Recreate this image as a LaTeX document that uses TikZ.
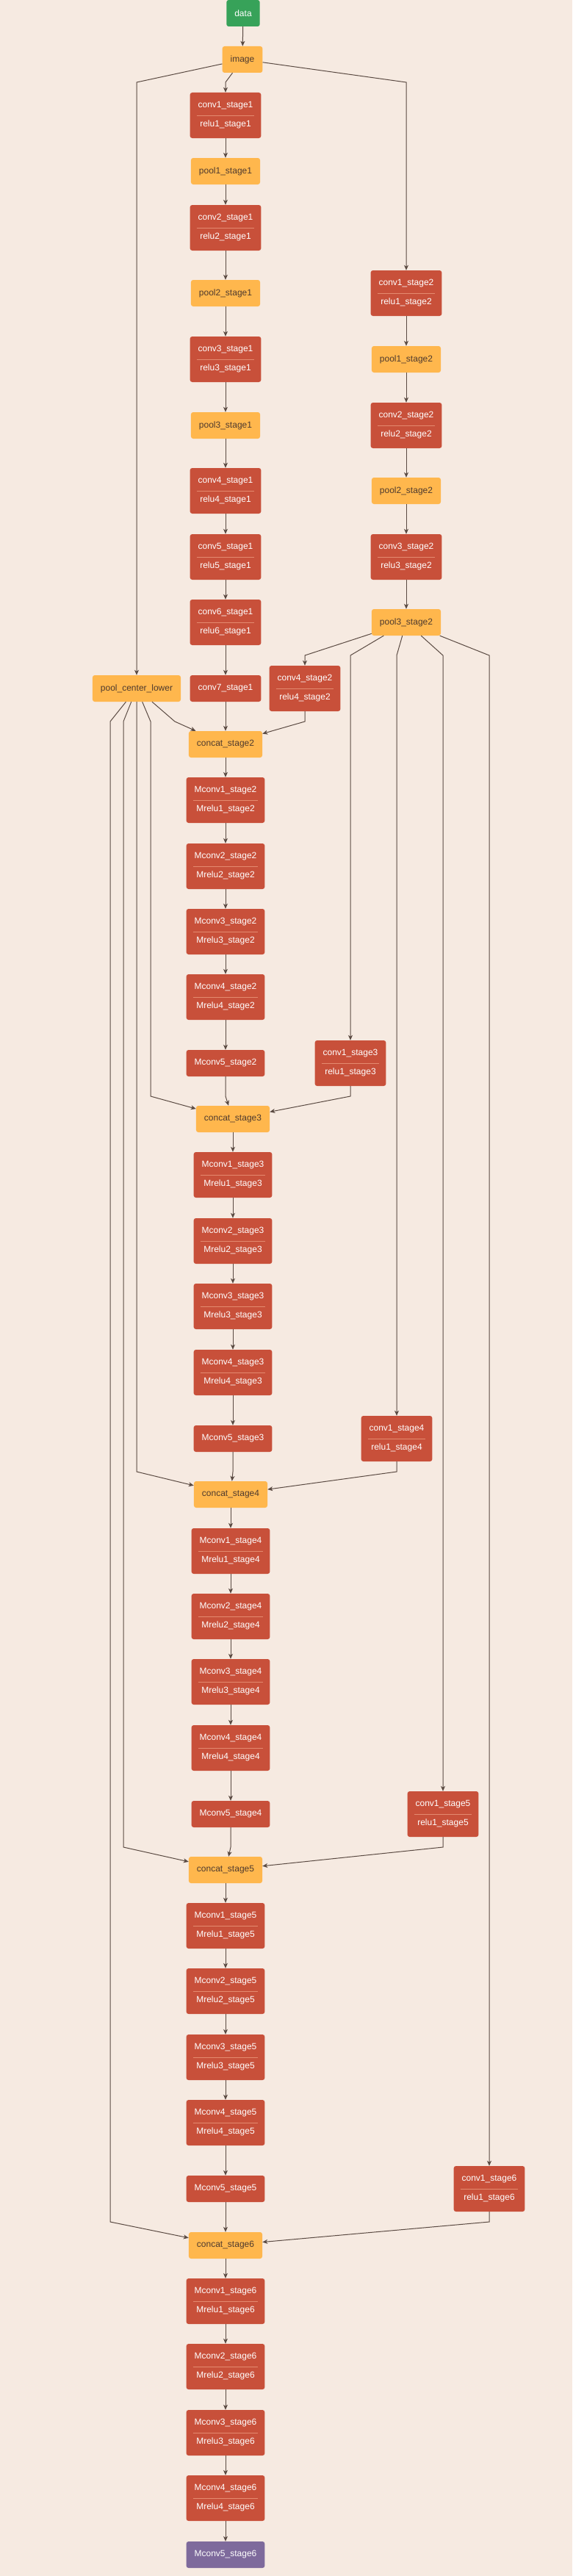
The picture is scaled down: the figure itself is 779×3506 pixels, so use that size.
\documentclass[tikz,border=0pt]{standalone}
\usepackage{fontspec}
\setmainfont{Liberation Sans}
\usetikzlibrary{arrows.meta}

\definecolor{bgpeach}{HTML}{F6EAE1}
\definecolor{convred}{HTML}{C8503A}
\definecolor{poolorange}{HTML}{FFB74D}
\definecolor{pooltext}{HTML}{4E3A2E}
\definecolor{datagreen}{HTML}{37A259}
\definecolor{outpurple}{HTML}{7E6A9C}
\definecolor{linkbrown}{HTML}{5A4A42}
\definecolor{divline}{HTML}{E48A6F}

\begin{document}
\begin{tikzpicture}[
    x=1pt, y=-1pt,
    box/.style={rounded corners=3pt, inner xsep=11pt, inner ysep=0pt,
        minimum height=36pt, align=center, font=\fontsize{12}{26}\selectfont},
    inputbox/.style={box, fill=datagreen, text=white},
    poolbox/.style={box, fill=poolorange, text=pooltext},
    convbox/.style={box, fill=convred, text=white},
    pairbox/.style={convbox, minimum height=62pt,
        path picture={\draw[divline, line width=0.8pt]
            ([xshift=9pt]path picture bounding box.west) --
            ([xshift=-9pt]path picture bounding box.east);}},
    outbox/.style={box, fill=outpurple, text=white},
    link/.style={draw=linkbrown, line width=1pt, -{Stealth[length=7pt, width=6pt, inset=2pt]}},
    every edge/.style={link}
]

\fill[bgpeach] (0,0) rectangle (779,3506);

\node[inputbox] (data) at (331,18) {data};
\node[poolbox] (image) at (330,81) {image};

% stage 1
\node[pairbox] (conv1s1) at (307,157) {conv1\_stage1\\relu1\_stage1};
\node[poolbox] (pool1s1) at (307,233) {pool1\_stage1};
\node[pairbox] (conv2s1) at (307,310) {conv2\_stage1\\relu2\_stage1};
\node[poolbox] (pool2s1) at (307,399) {pool2\_stage1};
\node[pairbox] (conv3s1) at (307,489) {conv3\_stage1\\relu3\_stage1};
\node[poolbox] (pool3s1) at (307,579) {pool3\_stage1};
\node[pairbox] (conv4s1) at (307,668) {conv4\_stage1\\relu4\_stage1};
\node[pairbox] (conv5s1) at (307,758) {conv5\_stage1\\relu5\_stage1};
\node[pairbox] (conv6s1) at (307,847) {conv6\_stage1\\relu6\_stage1};
\node[convbox] (conv7s1) at (307,937) {conv7\_stage1};

% shared trunk for stage 2 and up
\node[pairbox] (conv1s2) at (553,399) {conv1\_stage2\\relu1\_stage2};
\node[poolbox] (pool1s2) at (553,489) {pool1\_stage2};
\node[pairbox] (conv2s2) at (553,579) {conv2\_stage2\\relu2\_stage2};
\node[poolbox] (pool2s2) at (553,668) {pool2\_stage2};
\node[pairbox] (conv3s2) at (553,758) {conv3\_stage2\\relu3\_stage2};
\node[poolbox] (pool3s2) at (553,847) {pool3\_stage2};
\node[pairbox] (conv4s2) at (415,937) {conv4\_stage2\\relu4\_stage2};

\node[poolbox] (pcl) at (186,937) {pool\_center\_lower};

% stage 2
\node[poolbox] (cat2) at (307,1013) {concat\_stage2};
\node[pairbox] (mconv1s2) at (307,1089) {Mconv1\_stage2\\Mrelu1\_stage2};
\node[pairbox] (mconv2s2) at (307,1179) {Mconv2\_stage2\\Mrelu2\_stage2};
\node[pairbox] (mconv3s2) at (307,1268) {Mconv3\_stage2\\Mrelu3\_stage2};
\node[pairbox] (mconv4s2) at (307,1357) {Mconv4\_stage2\\Mrelu4\_stage2};
\node[convbox] (mconv5s2) at (307,1447) {Mconv5\_stage2};
\node[pairbox] (conv1s3) at (477,1447) {conv1\_stage3\\relu1\_stage3};

% stage 3
\node[poolbox] (cat3) at (317,1523) {concat\_stage3};
\node[pairbox] (mconv1s3) at (317,1599) {Mconv1\_stage3\\Mrelu1\_stage3};
\node[pairbox] (mconv2s3) at (317,1689) {Mconv2\_stage3\\Mrelu2\_stage3};
\node[pairbox] (mconv3s3) at (317,1778) {Mconv3\_stage3\\Mrelu3\_stage3};
\node[pairbox] (mconv4s3) at (317,1868) {Mconv4\_stage3\\Mrelu4\_stage3};
\node[convbox] (mconv5s3) at (317,1958) {Mconv5\_stage3};
\node[pairbox] (conv1s4) at (540,1958) {conv1\_stage4\\relu1\_stage4};

% stage 4
\node[poolbox] (cat4) at (314,2034) {concat\_stage4};
\node[pairbox] (mconv1s4) at (314,2111) {Mconv1\_stage4\\Mrelu1\_stage4};
\node[pairbox] (mconv2s4) at (314,2200) {Mconv2\_stage4\\Mrelu2\_stage4};
\node[pairbox] (mconv3s4) at (314,2289) {Mconv3\_stage4\\Mrelu3\_stage4};
\node[pairbox] (mconv4s4) at (314,2379) {Mconv4\_stage4\\Mrelu4\_stage4};
\node[convbox] (mconv5s4) at (314,2469) {Mconv5\_stage4};
\node[pairbox] (conv1s5) at (603,2469) {conv1\_stage5\\relu1\_stage5};

% stage 5
\node[poolbox] (cat5) at (307,2545) {concat\_stage5};
\node[pairbox] (mconv1s5) at (307,2621) {Mconv1\_stage5\\Mrelu1\_stage5};
\node[pairbox] (mconv2s5) at (307,2710) {Mconv2\_stage5\\Mrelu2\_stage5};
\node[pairbox] (mconv3s5) at (307,2800) {Mconv3\_stage5\\Mrelu3\_stage5};
\node[pairbox] (mconv4s5) at (307,2889) {Mconv4\_stage5\\Mrelu4\_stage5};
\node[convbox] (mconv5s5) at (307,2979) {Mconv5\_stage5};
\node[pairbox] (conv1s6) at (666,2979) {conv1\_stage6\\relu1\_stage6};

% stage 6
\node[poolbox] (cat6) at (307,3056) {concat\_stage6};
\node[pairbox] (mconv1s6) at (307,3132) {Mconv1\_stage6\\Mrelu1\_stage6};
\node[pairbox] (mconv2s6) at (307,3221) {Mconv2\_stage6\\Mrelu2\_stage6};
\node[pairbox] (mconv3s6) at (307,3311) {Mconv3\_stage6\\Mrelu3\_stage6};
\node[pairbox] (mconv4s6) at (307,3400) {Mconv4\_stage6\\Mrelu4\_stage6};
\node[outbox] (mconv5s6) at (307,3477) {Mconv5\_stage6};

% connectors
\draw (data) edge (image);
\draw[link] (image) -- (307,112) -- (conv1s1);
\draw[link] (image) -- (186,112) -- (pcl);
\draw[link] (image) -- (553,112) -- (conv1s2);

\draw (conv1s1) edge (pool1s1);
\draw (pool1s1) edge (conv2s1);
\draw (conv2s1) edge (pool2s1);
\draw (pool2s1) edge (conv3s1);
\draw (conv3s1) edge (pool3s1);
\draw (pool3s1) edge (conv4s1);
\draw (conv4s1) edge (conv5s1);
\draw (conv5s1) edge (conv6s1);
\draw (conv6s1) edge (conv7s1);

\draw (conv1s2) edge (pool1s2);
\draw (pool1s2) edge (conv2s2);
\draw (conv2s2) edge (pool2s2);
\draw (pool2s2) edge (conv3s2);
\draw (conv3s2) edge (pool3s2);

\draw[link] (pool3s2) -- (415,892) -- (conv4s2);
\draw[link] (pool3s2) -- (477,892) -- (conv1s3);
\draw[link] (pool3s2) -- (540,892) -- (conv1s4);
\draw[link] (pool3s2) -- (603,892) -- (conv1s5);
\draw[link] (pool3s2) -- (666,892) -- (conv1s6);

\draw[link] (pcl) -- (238,982) -- (cat2);
\draw[link] (pcl) -- (205,982) -- (205,1492) -- (cat3);
\draw[link] (pcl) -- (186,2003) -- (cat4);
\draw[link] (pcl) -- (168,982) -- (168,2514) -- (cat5);
\draw[link] (pcl) -- (150,982) -- (150,3024) -- (cat6);

\draw (conv7s1) edge (cat2);
\draw[link] (conv4s2) -- (415,982) -- (cat2);

\draw (cat2) edge (mconv1s2);
\draw (mconv1s2) edge (mconv2s2);
\draw (mconv2s2) edge (mconv3s2);
\draw (mconv3s2) edge (mconv4s2);
\draw (mconv4s2) edge (mconv5s2);
\draw[link] (mconv5s2) -- (307,1492) -- (cat3);
\draw[link] (conv1s3) -- (477,1492) -- (cat3);

\draw (cat3) edge (mconv1s3);
\draw (mconv1s3) edge (mconv2s3);
\draw (mconv2s3) edge (mconv3s3);
\draw (mconv3s3) edge (mconv4s3);
\draw (mconv4s3) edge (mconv5s3);
\draw[link] (mconv5s3) -- (317,2003) -- (cat4);
\draw[link] (conv1s4) -- (540,2003) -- (cat4);

\draw (cat4) edge (mconv1s4);
\draw (mconv1s4) edge (mconv2s4);
\draw (mconv2s4) edge (mconv3s4);
\draw (mconv3s4) edge (mconv4s4);
\draw (mconv4s4) edge (mconv5s4);
\draw[link] (mconv5s4) -- (314,2514) -- (cat5);
\draw[link] (conv1s5) -- (603,2514) -- (cat5);

\draw (cat5) edge (mconv1s5);
\draw (mconv1s5) edge (mconv2s5);
\draw (mconv2s5) edge (mconv3s5);
\draw (mconv3s5) edge (mconv4s5);
\draw (mconv4s5) edge (mconv5s5);
\draw (mconv5s5) edge (cat6);
\draw[link] (conv1s6) -- (666,3024) -- (cat6);

\draw (cat6) edge (mconv1s6);
\draw (mconv1s6) edge (mconv2s6);
\draw (mconv2s6) edge (mconv3s6);
\draw (mconv3s6) edge (mconv4s6);
\draw (mconv4s6) edge (mconv5s6);

\end{tikzpicture}
\end{document}
